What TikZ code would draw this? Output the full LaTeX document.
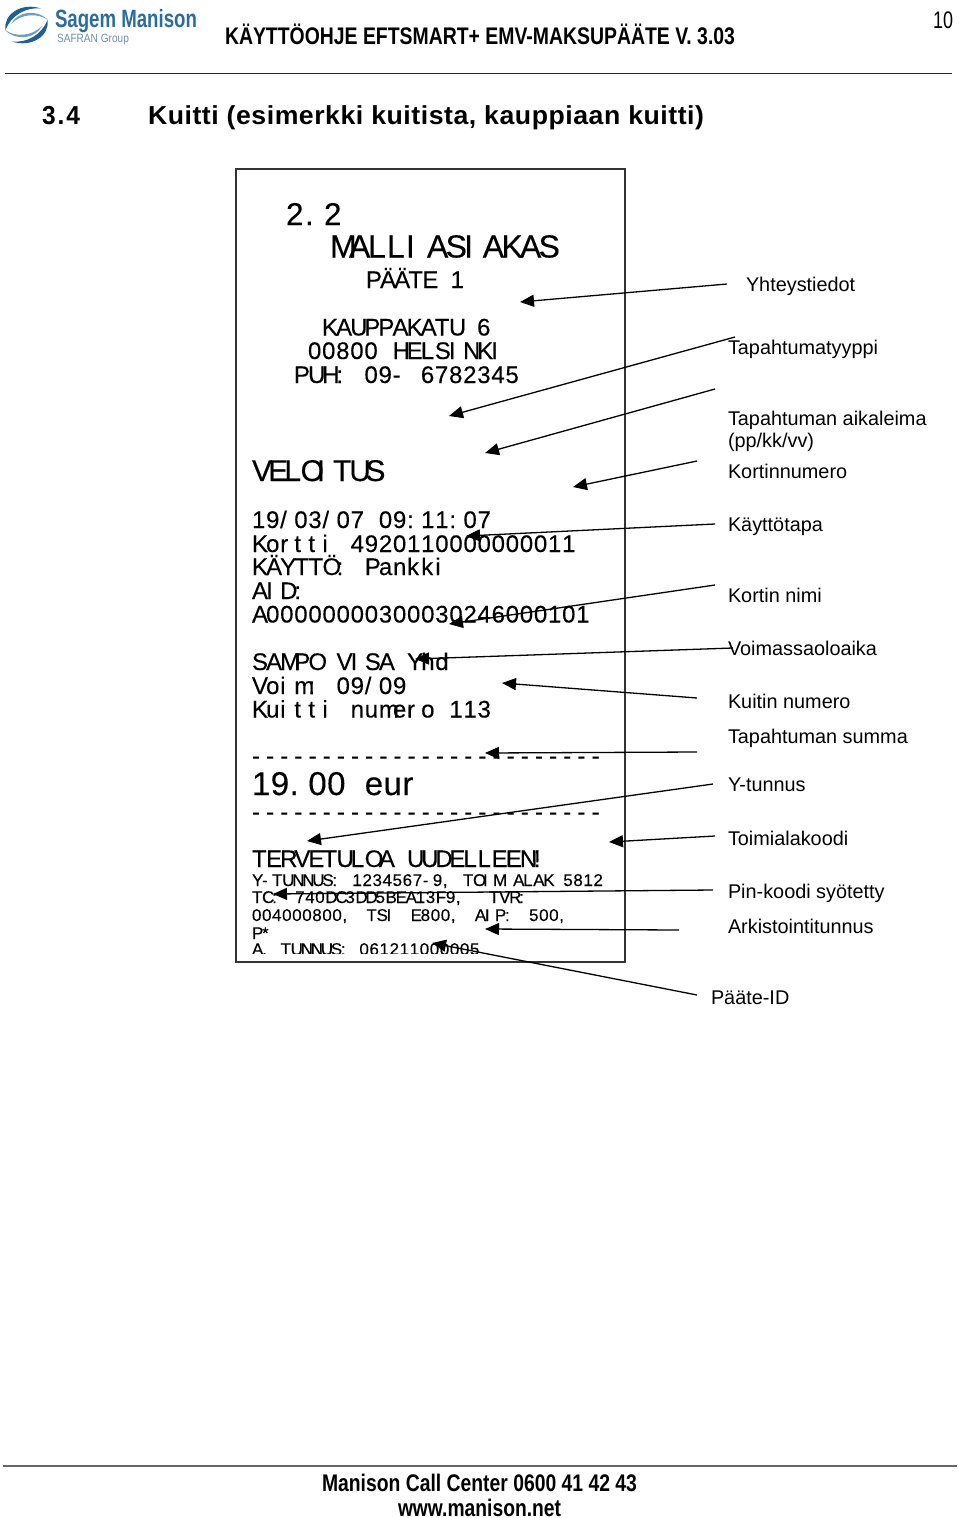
\documentclass[tikz,border=0pt]{standalone}
\usepackage{fontspec}
\usetikzlibrary{arrows.meta}
\setmainfont{Liberation Sans}
\newfontfamily\rcpt[FakeBold=0.2]{Liberation Sans}
\definecolor{logoblue}{HTML}{1F5F93}
\definecolor{logolight}{HTML}{6C9EC2}
\definecolor{brandblue}{HTML}{2C6C9C}
\definecolor{logogray}{HTML}{6F8FA8}
\ExplSyntaxOn
% fixed-pitch line: #1 cell width, #2 width of a space, #3 text
\NewDocumentCommand\monotext{mmm}{
  \str_map_inline:nn{#3}{
    \str_if_eq:nnTF{##1}{~}{\hspace*{#2pt}}{\makebox[#1pt][l]{##1}}
  }
}
\ExplSyntaxOff
\newcommand\fs[1]{\fontsize{#1pt}{#1pt}\selectfont}
\newcommand\fitw[2]{\resizebox{#1pt}{\height}{#2}}
\tikzset{
 x=1pt,y=-1pt,
 txt/.style={anchor=base west,inner sep=0pt,outer sep=0pt,text=black},
 lab/.style={txt,font=\fs{19.85}},
 head/.style={txt,font=\fs{24}\bfseries},
 call/.style={draw=black,line width=1.3pt,-{Triangle[length=14pt,width=12pt]}},
 rule/.style={draw=black!85,line width=.9pt}
}
\newcommand\rl[6]{\node[txt,font=\rcpt\fs{#4}] (#1) at (#2,#3) {\monotext{#5}{#5}{#6}};}
\newcommand\rls[7]{\node[txt,font=\rcpt\fs{#4}] (#1) at (#2,#3) {\monotext{#5}{#6}{#7}};}
\begin{document}
\begin{tikzpicture}
\useasboundingbox (0,0) rectangle (960,1518);
% logo
\foreach \ang in {0,180}{
\begin{scope}[rotate around={\ang:(26.5,25)}]
\fill[logoblue] (5.5,30) .. controls (3,14) and (22,2) .. (41,8.5) .. controls (27,7) and (12,14) .. (5.5,30) -- cycle;
\fill[logolight] (11,24) .. controls (17,12) and (36,8) .. (48,20) .. controls (38,13) and (22,13) .. (11,24) -- cycle;
\end{scope}}
\node[txt,font=\fs{25}\bfseries,text=brandblue] (brand) at (55,27.5) {\fitw{142}{Sagem Manison}};
\node[txt,font=\fs{12},text=logogray] (group) at (57,42) {\fitw{72}{SAFRAN Group}};
% header
\node[head] (doctitle) at (225,44) {\fitw{510}{KÄYTTÖOHJE EFTSMART+ EMV-MAKSUPÄÄTE V. 3.03}};
\node[txt,font=\fs{24}] (pageno) at (933,28) {\fitw{20}{10}};
\coordinate (r1a) at (5,73); \coordinate (r1b) at (952,73);
\draw[rule] (r1a) -- (r1b);
\node[txt,font=\fs{26}\bfseries\addfontfeature{LetterSpace=8}] (secno) at (42,124.5) {\fitw{38}{3.4}};
\node[txt,font=\fs{26}\bfseries\addfontfeature{LetterSpace=2}] (sectitle) at (148,124.5) {\fitw{556}{Kuitti (esimerkki kuitista, kauppiaan kuitti)}};
% receipt
\node[draw=black!80,line width=1.6pt,minimum width=389pt,minimum height=793pt,inner sep=0pt,outer sep=0pt,anchor=north west] (box) at (236,169) {};
\rl{a1}{286}{225}{31.5}{19}{2.2}
\rl{a2}{330}{257.5}{32}{19}{MALLI}
\rl{a2b}{427}{257.5}{32}{18.6}{ASIAKAS}
\rl{a3}{366}{288}{24}{14.1}{PÄÄTE 1}
\rl{a4}{322}{335.5}{24}{14.1}{KAUPPAKATU 6}
\rl{a5}{308}{359}{24}{14.1}{00800 HELSINKI}
\rl{a6}{294}{383}{24}{14.1}{PUH: 09- 6782345}
\rl{a7}{252}{481}{30}{16.2}{VELOITUS}
\rl{a8}{252}{528}{24}{14.1}{19/03/07 09:11:07}
\rl{a9}{252}{552}{24}{14.1}{Kortti 4920110000000011}
\rl{a10}{252}{575}{24}{14.1}{KÄYTTÖ: Pankki}
\rl{a11}{252}{599}{24}{14.1}{AID:}
\rl{a12}{252}{622.5}{24}{14.1}{A00000000300030246000101}
\rl{a13}{252}{670}{24}{14.1}{SAMPO VISA Yhd}
\rl{a14}{252}{694}{24}{14.1}{Voim: 09/09}
\rl{a15}{252}{717.5}{24}{14.1}{Kuitti numero 113}
\rl{a16}{252}{764}{24}{14.15}{-------------------------}
\rl{a17}{252}{795}{33}{18.8}{19.00 eur}
\rl{a18}{252}{820}{24}{14.15}{-------------------------}
\rl{a19}{252}{867}{24}{14.1}{TERVETULOA UUDELLEEN!}
\rls{a20}{252}{886}{17}{10.05}{10}{Y-TUNNUS: 1234567-9, TOIM ALAK 5812}
\rls{a21}{252}{903}{17}{10.05}{13}{TC: 740DC3DD5BEA13F9,^^^^00a0 TVR:}
\rls{a22}{252}{921}{17}{10.05}{14}{004000800, TSI E800, AIP: 500,}
\rl{a23}{252}{939}{17}{10.05}{P*}
\begin{scope}
\clip (240,940) rectangle (620,953);
\rls{a24}{252}{955}{17}{10.05}{8.5}{A. TUNNUS: 061211000005}
\end{scope}
% labels
\node[lab] (l1) at (746,291) {Yhteystiedot};
\node[lab] (l2) at (728,354) {Tapahtumatyyppi};
\node[lab] (l3) at (728,425) {Tapahtuman aikaleima};
\node[lab] (l3b) at (728,447) {(pp/kk/vv)};
\node[lab] (l4) at (728,478) {Kortinnumero};
\node[lab] (l5) at (728,531) {Käyttötapa};
\node[lab] (l6) at (728,602) {Kortin nimi};
\node[lab] (l7) at (728,655) {Voimassaoloaika};
\node[lab] (l8) at (728,708) {Kuitin numero};
\node[lab] (l9) at (728,743) {Tapahtuman summa};
\node[lab] (l10) at (728,791) {Y-tunnus};
\node[lab] (l11) at (728,845) {Toimialakoodi};
\node[lab] (l12) at (728,898) {Pin-koodi syötetty};
\node[lab] (l13) at (728,933) {Arkistointitunnus};
\node[lab] (l14) at (711,1004) {Pääte-ID};
% connector ends
\coordinate (s1) at (727,284);  \coordinate (t1) at (520,302);
\coordinate (s2) at (735,337);  \coordinate (t2) at (449,416);
\coordinate (s3) at (715,389);  \coordinate (t3) at (485,453);
\coordinate (s4) at (697,461);  \coordinate (t4) at (573,487);
\coordinate (s5) at (715,524);  \coordinate (t5) at (466,536);
\coordinate (s6) at (715,585);  \coordinate (t6) at (449,624);
\coordinate (s7) at (733,648);  \coordinate (t7) at (415,659);
\coordinate (s8) at (697,698);  \coordinate (t8) at (502,683);
\coordinate (s9) at (697,752);  \coordinate (t9) at (485,753);
\coordinate (s10) at (713,784); \coordinate (t10) at (307,841);
\coordinate (s11) at (715,836); \coordinate (t11) at (609,842);
\coordinate (s12) at (713,890); \coordinate (t12) at (273,894);
\coordinate (s13) at (679,930); \coordinate (t13) at (485,929);
\coordinate (s14) at (697,995); \coordinate (t14) at (432,943);
\foreach \i in {1,...,14} {\draw[call] (s\i) -- (t\i);}
% footer
\coordinate (r2a) at (3,1466); \coordinate (r2b) at (957,1466);
\draw[draw=black!60,line width=1.4pt] (r2a) -- (r2b);
\node[head] (foot1) at (322,1491) {\fitw{315}{Manison Call Center 0600 41 42 43}};
\node[head] (foot2) at (398,1516.5) {\fitw{163}{www.manison.net}};
\end{tikzpicture}
\end{document}
